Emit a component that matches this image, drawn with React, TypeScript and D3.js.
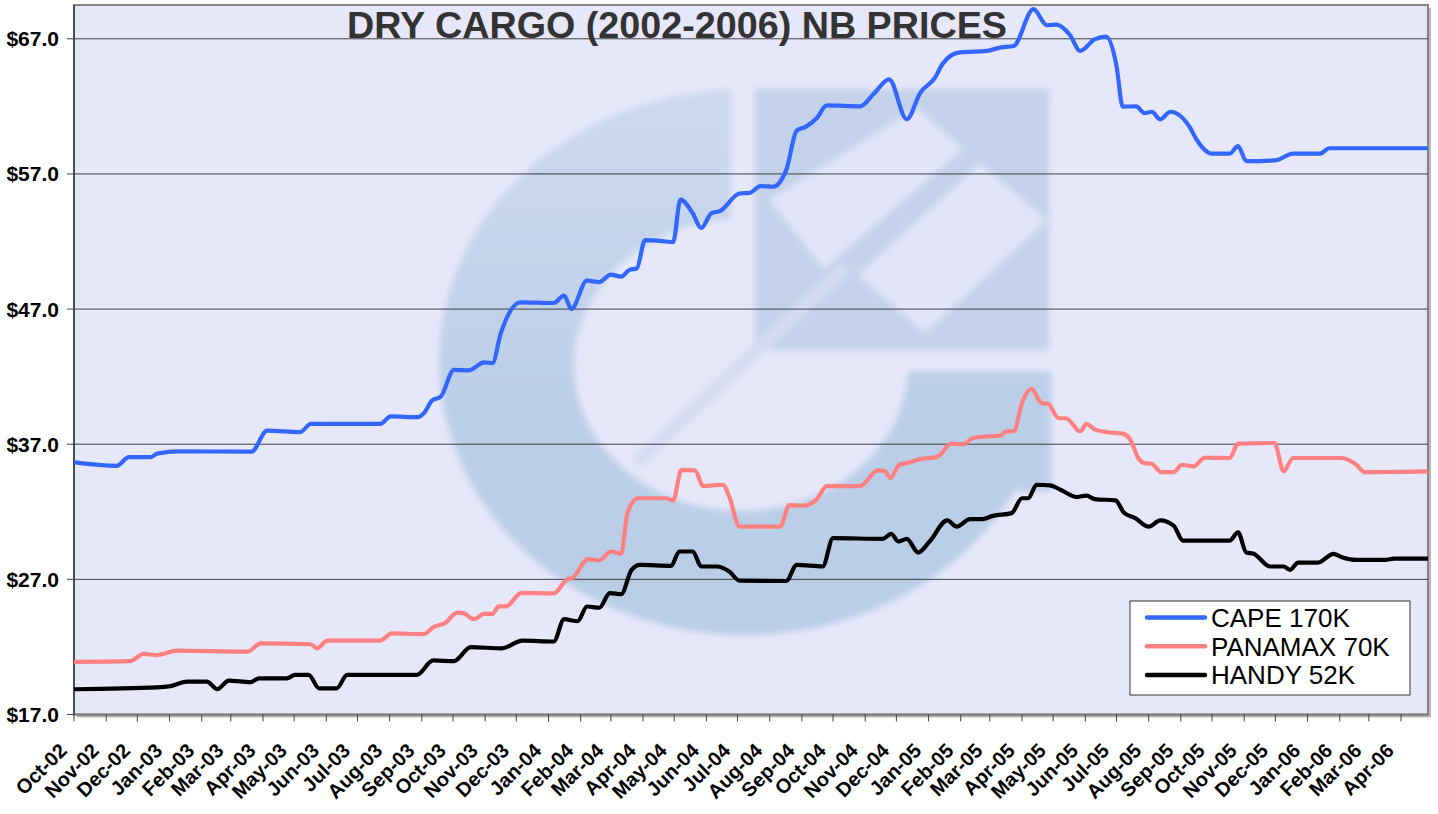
import React from 'react';
import * as d3 from 'd3';

const W = 1438;
const H = 814;
const M = { left: 74, right: 1428, top: 5, bottom: 714.5 };

const seriesNames = ['CAPE 170K', 'PANAMAX 70K', 'HANDY 52K'];
const seriesColors = ['#3366ff', '#ff8080', '#000000'];
const yTicks = [17, 27, 37, 47, 57, 67];
const yDomain: [number, number] = [17, 69.5];
const xDomain = ['2002-10-01', '2006-04-27'];
const title = 'DRY CARGO (2002-2006) NB PRICES';

type Pt = [string, number];

const capeData: Pt[] = [
  ['2002-10-01', 35.65], ['2002-11-11', 35.4], ['2002-11-23', 36.05], ['2002-12-14', 36.05],
  ['2002-12-20', 36.3], ['2003-01-10', 36.47], ['2003-03-21', 36.45], ['2003-04-05', 38.0],
  ['2003-05-07', 37.9], ['2003-05-17', 38.5], ['2003-07-23', 38.5], ['2003-08-02', 39.06],
  ['2003-08-28', 39.0], ['2003-09-03', 39.3], ['2003-09-11', 40.25], ['2003-09-19', 40.5],
  ['2003-10-02', 42.5], ['2003-10-16', 42.47], ['2003-10-31', 43.06], ['2003-11-08', 43.0],
  ['2003-11-16', 45.2], ['2003-12-05', 47.5], ['2004-01-06', 47.45], ['2004-01-16', 48.0],
  ['2004-01-23', 47.0], ['2004-02-07', 49.1], ['2004-02-19', 49.0], ['2004-03-01', 49.55],
  ['2004-03-11', 49.4], ['2004-03-19', 49.9], ['2004-03-26', 50.0], ['2004-04-03', 52.1],
  ['2004-04-23', 52.0], ['2004-04-30', 51.95], ['2004-05-07', 55.1], ['2004-05-19', 54.07],
  ['2004-05-27', 53.0], ['2004-06-06', 54.1], ['2004-06-14', 54.25], ['2004-07-03', 55.55],
  ['2004-07-13', 55.6], ['2004-07-23', 56.1], ['2004-08-04', 56.05], ['2004-08-17', 57.3],
  ['2004-08-27', 60.2], ['2004-09-05', 60.5], ['2004-09-15', 61.1], ['2004-09-25', 62.07],
  ['2004-10-27', 62.0], ['2004-11-10', 63.0], ['2004-11-24', 64.0], ['2004-12-11', 61.04],
  ['2004-12-24', 63.0], ['2005-01-07', 64.1], ['2005-01-15', 65.2], ['2005-01-31', 66.0],
  ['2005-02-26', 66.1], ['2005-03-11', 66.35], ['2005-03-24', 66.47], ['2005-04-12', 69.2],
  ['2005-04-25', 68.0], ['2005-05-04', 68.05], ['2005-05-17', 67.3], ['2005-05-27', 66.1],
  ['2005-06-10', 66.96], ['2005-06-21', 67.16], ['2005-07-01', 65.0], ['2005-07-07', 61.98],
  ['2005-07-20', 62.0], ['2005-07-28', 61.5], ['2005-08-04', 61.6], ['2005-08-12', 61.04],
  ['2005-08-22', 61.6], ['2005-09-10', 60.4], ['2005-09-16', 59.55], ['2005-10-01', 58.5],
  ['2005-10-18', 58.5], ['2005-10-26', 59.06], ['2005-11-03', 57.95], ['2005-12-01', 58.0],
  ['2005-12-18', 58.5], ['2006-01-13', 58.5], ['2006-01-22', 58.9], ['2006-04-27', 58.9],
];

const panamaxData: Pt[] = [
  ['2002-10-01', 20.9], ['2002-11-24', 20.95], ['2002-12-07', 21.48], ['2002-12-20', 21.4],
  ['2003-01-08', 21.73], ['2003-03-17', 21.65], ['2003-03-30', 22.27], ['2003-05-17', 22.2],
  ['2003-05-23', 21.9], ['2003-06-02', 22.47], ['2003-07-23', 22.47], ['2003-08-03', 23.0],
  ['2003-09-03', 22.95], ['2003-09-12', 23.46], ['2003-09-24', 23.8], ['2003-10-05', 24.54],
  ['2003-10-11', 24.5], ['2003-10-21', 24.05], ['2003-10-31', 24.44], ['2003-11-08', 24.44],
  ['2003-11-14', 25.0], ['2003-11-21', 25.0], ['2003-12-06', 26.0], ['2004-01-06', 25.96],
  ['2004-01-19', 27.0], ['2004-01-24', 27.1], ['2004-02-08', 28.5], ['2004-02-19', 28.4],
  ['2004-03-01', 29.06], ['2004-03-11', 28.9], ['2004-03-17', 31.9], ['2004-03-27', 33.0],
  ['2004-04-23', 33.0], ['2004-04-30', 32.84], ['2004-05-08', 35.1], ['2004-05-21', 35.06],
  ['2004-05-29', 33.9], ['2004-06-17', 34.0], ['2004-06-23', 33.13], ['2004-07-03', 30.9],
  ['2004-08-11', 30.9], ['2004-08-20', 32.5], ['2004-09-02', 32.45], ['2004-09-15', 32.9],
  ['2004-09-25', 33.9], ['2004-10-27', 33.9], ['2004-11-13', 35.06], ['2004-11-20', 35.0],
  ['2004-11-25', 34.5], ['2004-12-04', 35.48], ['2004-12-11', 35.6], ['2004-12-24', 35.9],
  ['2005-01-09', 36.05], ['2005-01-23', 37.04], ['2005-02-03', 37.0], ['2005-02-13', 37.46],
  ['2005-03-01', 37.58], ['2005-03-11', 37.63], ['2005-03-17', 37.95], ['2005-03-24', 37.95],
  ['2005-04-01', 40.05], ['2005-04-10', 41.09], ['2005-04-20', 40.05], ['2005-04-26', 40.0],
  ['2005-05-06', 38.94], ['2005-05-14', 38.9], ['2005-05-27', 37.95], ['2005-06-02', 38.5],
  ['2005-06-10', 38.1], ['2005-06-21', 37.9], ['2005-07-07', 37.78], ['2005-07-14', 37.38],
  ['2005-07-22', 35.98], ['2005-07-28', 35.6], ['2005-08-04', 35.55], ['2005-08-13', 34.94],
  ['2005-08-25', 34.94], ['2005-09-02', 35.48], ['2005-09-13', 35.36], ['2005-09-24', 36.0],
  ['2005-10-18', 35.98], ['2005-10-26', 37.04], ['2005-11-30', 37.09], ['2005-12-09', 34.99],
  ['2005-12-18', 35.98], ['2006-02-03', 35.98], ['2006-02-17', 35.48], ['2006-02-25', 34.94],
  ['2006-04-27', 34.99],
];

const handyData: Pt[] = [
  ['2002-10-01', 18.87], ['2002-12-20', 19.0], ['2003-01-02', 19.1], ['2003-01-18', 19.43],
  ['2003-02-06', 19.43], ['2003-02-16', 18.87], ['2003-02-27', 19.5], ['2003-03-20', 19.4],
  ['2003-03-28', 19.68], ['2003-04-24', 19.68], ['2003-05-02', 19.93], ['2003-05-15', 19.93],
  ['2003-05-25', 18.94], ['2003-06-11', 18.94], ['2003-06-21', 19.93], ['2003-08-27', 19.93],
  ['2003-09-12', 21.0], ['2003-10-02', 20.95], ['2003-10-18', 21.98], ['2003-11-17', 21.9],
  ['2003-12-07', 22.47], ['2004-01-06', 22.4], ['2004-01-16', 24.05], ['2004-01-29', 23.9],
  ['2004-02-07', 24.99], ['2004-02-19', 24.9], ['2004-02-29', 25.98], ['2004-03-11', 25.9],
  ['2004-03-21', 27.7], ['2004-03-29', 28.07], ['2004-04-28', 28.0], ['2004-05-06', 29.06],
  ['2004-05-19', 29.06], ['2004-05-27', 27.95], ['2004-06-11', 27.95], ['2004-06-23', 27.58],
  ['2004-07-03', 26.9], ['2004-08-17', 26.88], ['2004-08-27', 28.07], ['2004-09-21', 27.95],
  ['2004-10-01', 30.05], ['2004-11-18', 30.0], ['2004-11-26', 30.37], ['2004-12-03', 29.8],
  ['2004-12-11', 30.0], ['2004-12-22', 28.99], ['2005-01-02', 29.8], ['2005-01-19', 31.36],
  ['2005-01-28', 30.9], ['2005-02-10', 31.46], ['2005-02-22', 31.46], ['2005-03-04', 31.7],
  ['2005-03-22', 31.9], ['2005-04-01', 33.0], ['2005-04-07', 33.0], ['2005-04-15', 34.0],
  ['2005-04-28', 33.96], ['2005-05-08', 33.63], ['2005-05-24', 33.09], ['2005-06-02', 33.2],
  ['2005-06-10', 32.94], ['2005-06-30', 32.84], ['2005-07-08', 31.95], ['2005-07-19', 31.53],
  ['2005-08-01', 30.9], ['2005-08-12', 31.36], ['2005-08-25', 30.98], ['2005-09-03', 29.87],
  ['2005-10-18', 29.87], ['2005-10-26', 30.47], ['2005-11-03', 28.99], ['2005-11-10', 28.9],
  ['2005-11-26', 27.95], ['2005-12-09', 27.95], ['2005-12-15', 27.7], ['2005-12-23', 28.24],
  ['2006-01-11', 28.24], ['2006-01-26', 28.89], ['2006-02-03', 28.64], ['2006-02-17', 28.44],
  ['2006-03-17', 28.44], ['2006-03-25', 28.54], ['2006-04-27', 28.54],
];

const allSeries = [capeData, panamaxData, handyData];

const FONT = '"Liberation Sans", Arial, Helvetica, sans-serif';
const parse = d3.timeParse('%Y-%m-%d');

// faint company logo behind the plot (decoration, not data)
function Watermark() {
  const ring = 'M439,362 a306,273 0 1,0 612,0 a306,273 0 1,0 -612,0 Z ' +
    'M574,365 a167,146 0 1,0 334,0 a167,146 0 1,0 -334,0 Z';
  const light = '#e2e5f9';
  return (
    <g filter="url(#wmBlur)">
      <defs>
        <linearGradient id="wmGrad" gradientUnits="userSpaceOnUse" x1={0} y1={90} x2={0} y2={635}>
          <stop offset="0" stopColor="#cdd9ef" />
          <stop offset="0.55" stopColor="#bccfe8" />
          <stop offset="1" stopColor="#b9cde7" />
        </linearGradient>
        <clipPath id="ringClip">
          <polygon points="380,40 731,40 731,371 1120,371 1120,700 380,700" />
        </clipPath>
      </defs>
      <path d={ring} fillRule="evenodd" fill="url(#wmGrad)" clipPath="url(#ringClip)" />
      <rect x={912} y={371} width={139} height={120} fill="url(#wmGrad)" />
      <rect x={755} y={89} width={294} height={261} fill="#c3d2ea" />
      <polygon points="769,200 917,108 963,149 824,269" fill={light} />
      <polygon points="858,275 980,164 1047,220 925,333" fill={light} />
      <line x1={845} y1={268} x2={636} y2={463} stroke="#d5dcf1" strokeWidth={14} />
    </g>
  );
}

export default function App() {
  const x = d3.scaleTime()
    .domain([parse(xDomain[0])!, parse(xDomain[1])!])
    .range([M.left, M.right]);
  const y = d3.scaleLinear().domain(yDomain).range([M.bottom, M.top]);

  const line = d3.line<Pt>()
    .x(d => x(parse(d[0])!))
    .y(d => y(d[1]))
    .curve(d3.curveMonotoneX);

  const months = d3.timeMonth.range(parse(xDomain[0])!, d3.timeDay.offset(parse(xDomain[1])!, 1));
  const fmtMonth = d3.timeFormat('%b-%y');
  const fmtY = (v: number) => `$${v.toFixed(1)}`;

  const pw = M.right - M.left;
  const ph = M.bottom - M.top;

  const leg = { x: 1130, y: 601, w: 280, h: 94 };

  return (
    <svg width={W} height={H} style={{ position: 'absolute', left: 0, top: 0, background: '#fff' }}
      fontFamily={FONT}>
      <defs>
        <filter id="wmBlur" x="-10%" y="-10%" width="120%" height="120%">
          <feGaussianBlur stdDeviation={3} />
        </filter>
        <clipPath id="plotClip">
          <rect x={M.left} y={M.top} width={pw} height={ph} />
        </clipPath>
      </defs>

      {/* plot frame with drop shadow */}
      <rect x={M.left + 3} y={M.top + 3} width={pw} height={ph} fill="#b8b8b8" />
      <rect x={M.left} y={M.top} width={pw} height={ph} fill="#e7e7fa" stroke="#858585" strokeWidth={2} />

      <g clipPath="url(#plotClip)">
        <Watermark />
      </g>

      {/* gridlines */}
      {yTicks.slice(1).map(t => (
        <line key={t} x1={M.left} x2={M.right} y1={y(t)} y2={y(t)} stroke="#404040" strokeWidth={1} />
      ))}

      {/* axes */}
      <line x1={M.left} x2={M.right} y1={M.bottom} y2={M.bottom} stroke="#808080" strokeWidth={2} />
      <line x1={M.left} x2={M.left} y1={M.top} y2={M.bottom} stroke="#4a4a4a" strokeWidth={2} />

      {yTicks.map(t => (
        <g key={t}>
          <line x1={M.left - 7} x2={M.left} y1={y(t)} y2={y(t)} stroke="#404040" />
          <text x={59} y={y(t)} dy="0.36em" textAnchor="end" fontSize={21} fontWeight="bold" fill="#000">
            {fmtY(t)}
          </text>
        </g>
      ))}

      {months.map(m => (
        <g key={+m}>
          <line x1={x(m)} x2={x(m)} y1={M.bottom} y2={M.bottom + 7} stroke="#404040" />
          <text transform={`translate(${x(m) - 6},${752}) rotate(-45)`} textAnchor="end"
            fontSize={20} fontWeight="bold" fill="#000">
            {fmtMonth(m)}
          </text>
        </g>
      ))}

      {/* series */}
      <g clipPath="url(#plotClip)">
        {allSeries.map((s, i) => (
          <path key={seriesNames[i]} d={line(s) ?? ''} fill="none" stroke={seriesColors[i]}
            strokeWidth={4.2} strokeLinejoin="round" strokeLinecap="round" />
        ))}
      </g>

      {/* title */}
      <text x={347} y={38} fontSize={36} fontWeight="bold" fill="#333333"
        textLength={660} lengthAdjust="spacingAndGlyphs">
        {title}
      </text>

      {/* legend */}
      <g>
        <rect x={leg.x} y={leg.y} width={leg.w} height={leg.h} fill="#ffffff" stroke="#333" strokeWidth={1} />
        {seriesNames.map((n, i) => {
          const cy = leg.y + 16.5 + i * 28.7;
          return (
            <g key={n}>
              <line x1={leg.x + 17} x2={leg.x + 75} y1={cy} y2={cy} stroke={seriesColors[i]}
                strokeWidth={4.5} strokeLinecap="round" />
              <text x={leg.x + 81} y={cy + 9.5} fontSize={26} fill="#000">{n}</text>
            </g>
          );
        })}
      </g>
    </svg>
  );
}
